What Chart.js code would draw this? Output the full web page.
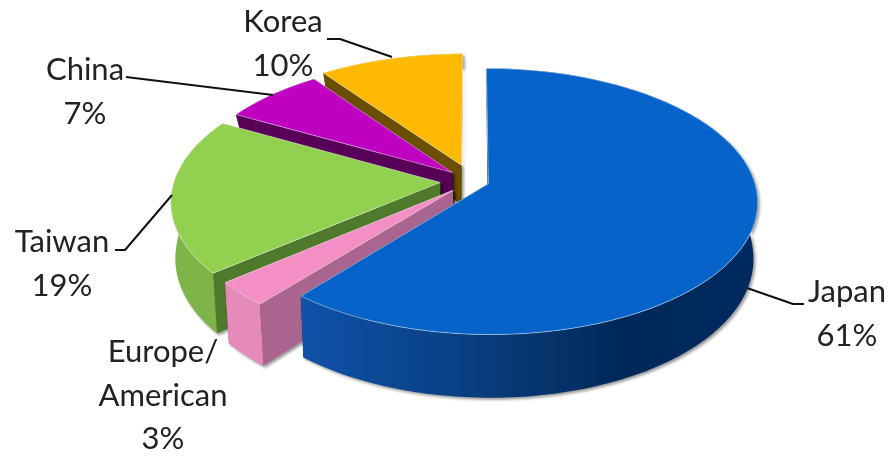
<!DOCTYPE html>
<html>
<head>
<meta charset="utf-8">
<style>
  body { margin: 0; background: #fff; }
</style>
<script src="https://cdn.jsdelivr.net/npm/chart.js@4"></script>
</head>
<body>
<canvas id="shareChart" width="888" height="456"></canvas>
<script>
// Market share by region, clockwise from twelve o'clock
const regions = ['Japan', 'Europe/\nAmerican', 'Taiwan', 'China', 'Korea'];
const shares = [61, 3, 19, 7, 10];

const topColors = ['#0563c9', '#f48fc5', '#92d050', '#c000c0', '#ffb900'];
const rimColors = ['#063a78', '#e68abc', '#7fb548', '#8a008a', '#a87a00'];
const wallColors = ['#03305f', '#a9648f', '#4f7a2c', '#580058', '#6a4f00'];
const explode = [6.5, 10, 12, 10, 13];

// Anchor of each caption: centre x, first baseline, and its leader line
const captionX = [847, 163, 62, 85, 283];
const captionY = [302, 362, 252, 80, 32];
const leaders = [
    [[747, 288], [793, 304], [804, 304]],
    [],
    [[115, 250], [125, 250], [172, 195]],
    [[126, 77], [273, 95]],
    [[327, 39], [340, 39], [392, 57]]
];

const view = { x: 472, y: 181, radius: 266, tilt: 130, persp: 0.132, shrink: 0.985 };
const depths = { back: 14, middle: 56, front: 63 };

function topPoint(u, v) {
    const s = 1 / (1 - view.persp * v);
    return { x: view.x + view.radius * u * s, y: view.y + view.tilt * v * s };
}

// Thickness shown on screen: thin behind, nearly constant from the middle forward
function depthAt(v) {
    if (v >= 0.1) return depths.middle + (depths.front - depths.middle) * (v - 0.1) / 0.9;
    const t = Math.max(0, (v + 0.45) / 0.55);
    return depths.back + (depths.middle - depths.back) * t * t * (3 - 2 * t);
}

function basePoint(u, v) {
    const p = topPoint(u, v);
    return { x: view.x + (p.x - view.x) * view.shrink, y: p.y + depthAt(v) };
}

// Ground position of a spot on an arc, pushed out along the slice's middle angle
function ground(arc, angle, r) {
    const mid = (arc.startAngle + arc.endAngle) / 2;
    const d = arc.options.offset / 100;
    return { u: Math.cos(angle) * r + Math.cos(mid) * d, v: Math.sin(angle) * r + Math.sin(mid) * d };
}

function tracePoints(ctx, points) {
    ctx.beginPath();
    points.forEach((p, i) => i ? ctx.lineTo(p.x, p.y) : ctx.moveTo(p.x, p.y));
    ctx.closePath();
}

function rimGround(arc) {
    const steps = 80;
    const out = [];
    for (let i = 0; i <= steps; i++) {
        out.push(ground(arc, arc.startAngle + (arc.endAngle - arc.startAngle) * i / steps, 1));
    }
    return out;
}

function drawSlice(ctx, arc, index) {
    const rim = rimGround(arc);
    const apex = ground(arc, arc.startAngle, 0);
    const topRim = rim.map(g => topPoint(g.u, g.v));
    const baseRim = rim.map(g => basePoint(g.u, g.v));
    const topApex = topPoint(apex.u, apex.v);
    const baseApex = basePoint(apex.u, apex.v);
    const last = topRim.length - 1;

    ctx.save();
    ctx.shadowColor = 'rgba(0,0,0,0.4)';
    ctx.shadowBlur = 3;
    ctx.shadowOffsetX = 2;
    ctx.shadowOffsetY = 2;

    // far wall, then the rim, then the wall facing the next slice
    ctx.fillStyle = wallColors[index];
    tracePoints(ctx, [topApex, topRim[last], baseRim[last], baseApex]);
    ctx.fill();

    let rimFill = rimColors[index];
    if (index === 0) {
        rimFill = ctx.createLinearGradient(302, 0, 757, 0);
        rimFill.addColorStop(0, '#0f52a8');
        rimFill.addColorStop(0.3, '#0a4289');
        rimFill.addColorStop(0.5, '#06366f');
        rimFill.addColorStop(0.7, '#00295a');
        rimFill.addColorStop(1, '#002a5e');
    }
    ctx.fillStyle = rimFill;
    tracePoints(ctx, topRim.concat(baseRim.slice().reverse()));
    ctx.fill();

    ctx.fillStyle = wallColors[index];
    tracePoints(ctx, [topApex, topRim[0], baseRim[0], baseApex]);
    ctx.fill();
    ctx.restore();

    // top face
    ctx.fillStyle = topColors[index];
    tracePoints(ctx, [topApex].concat(topRim));
    ctx.fill();
    ctx.strokeStyle = 'rgba(255,255,255,0.45)';
    ctx.lineWidth = 1;
    ctx.stroke();
}

const pie3d = {
    id: 'pie3d',
    beforeDatasetsDraw(chart) {
        const ctx = chart.ctx;
        const arcs = chart.getDatasetMeta(0).data;
        // back slices first, Japan sits in front of everything
        [4, 3, 2, 1, 0].forEach(i => drawSlice(ctx, arcs[i], i));
        return false;
    },
    afterDraw(chart) {
        const ctx = chart.ctx;
        ctx.save();
        ctx.strokeStyle = '#111';
        ctx.lineWidth = 2;
        ctx.lineJoin = 'round';
        leaders.forEach(line => {
            ctx.beginPath();
            line.forEach((p, i) => i ? ctx.lineTo(p[0], p[1]) : ctx.moveTo(p[0], p[1]));
            ctx.stroke();
        });
        ctx.fillStyle = '#222';
        ctx.font = '31px Lato';
        ctx.textAlign = 'center';
        regions.forEach((region, i) => {
            const lines = region.split('\n').concat(shares[i] + '%');
            lines.forEach((text, n) => ctx.fillText(text, captionX[i], captionY[i] + n * 43.5));
        });
        ctx.restore();
    }
};

new Chart(document.getElementById('shareChart').getContext('2d'), {
    type: 'pie',
    data: {
        labels: regions,
        datasets: [{
            data: shares,
            backgroundColor: topColors,
            offset: explode,
            borderWidth: 0
        }]
    },
    options: {
        responsive: false,
        animation: false,
        plugins: {
            legend: { display: false },
            tooltip: { enabled: false }
        }
    },
    plugins: [pie3d]
});
</script>
</body>
</html>
